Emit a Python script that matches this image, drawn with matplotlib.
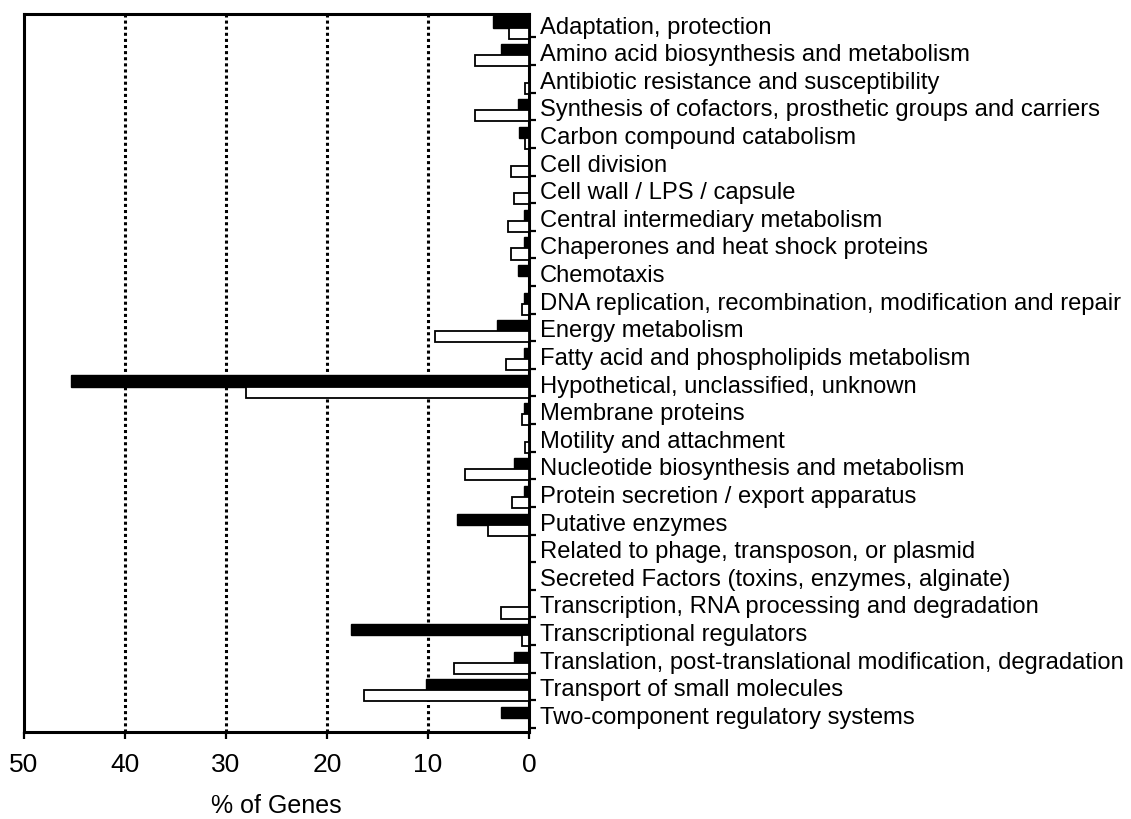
import numpy as np
import matplotlib.pyplot as plt

plt.rcParams['font.family'] = ['Liberation Sans', 'DejaVu Sans']

categories = [
    'Adaptation, protection',
    'Amino acid biosynthesis and metabolism',
    'Antibiotic resistance and susceptibility',
    'Synthesis of cofactors, prosthetic groups and carriers',
    'Carbon compound catabolism',
    'Cell division',
    'Cell wall / LPS / capsule',
    'Central intermediary metabolism',
    'Chaperones and heat shock proteins',
    'Chemotaxis',
    'DNA replication, recombination, modification and repair',
    'Energy metabolism',
    'Fatty acid and phospholipids metabolism',
    'Hypothetical, unclassified, unknown',
    'Membrane proteins',
    'Motility and attachment',
    'Nucleotide biosynthesis and metabolism',
    'Protein secretion / export apparatus',
    'Putative enzymes',
    'Related to phage, transposon, or plasmid',
    'Secreted Factors (toxins, enzymes, alginate)',
    'Transcription, RNA processing and degradation',
    'Transcriptional regulators',
    'Translation, post-translational modification, degradation',
    'Transport of small molecules',
    'Two-component regulatory systems',
]
# black bars (upper) and white bars (lower), % of genes
black_vals = [3.6, 2.8, 0.0, 1.05, 1.0, 0.0, 0.0, 0.5, 0.5, 1.05, 0.5, 3.2, 0.5,
              45.3, 0.5, 0.0, 1.45, 0.5, 7.1, 0.0, 0.0, 0.0, 17.6, 1.45, 10.2, 2.8]
white_vals = [2.0, 5.3, 0.4, 5.3, 0.4, 1.8, 1.45, 2.05, 1.8, 0.0, 0.65, 9.3, 2.3,
              28.0, 0.65, 0.4, 6.3, 1.7, 4.1, 0.0, 0.0, 2.8, 0.65, 7.4, 16.3, 0.0]
xticks = [50, 40, 30, 20, 10, 0]

fig = plt.figure(figsize=(11.31, 8.19), dpi=100)
ax = fig.add_axes([0.0212, 0.1062, 0.4465, 0.8767])

y = np.arange(len(categories))
ax.barh(y - 0.21, black_vals, height=0.4, color='black', edgecolor='black',
        linewidth=1.0, zorder=3)
ax.barh(y + 0.19, white_vals, height=0.4, color='white', edgecolor='black',
        linewidth=1.3, zorder=3)

for g in [10, 20, 30, 40]:
    ax.axvline(g, color='black', linestyle=(0, (1, 1)), linewidth=2.2, zorder=1)

ax.set_xlim(50, 0)
ax.set_ylim(len(categories) - 0.5, -0.5)

ax.yaxis.tick_right()
ax.set_yticks(y - 0.1)
ax.set_yticklabels(categories, fontsize=17.1)
ax.set_yticks(y + 0.35, minor=True)
ax.tick_params(axis='y', which='major', length=0, pad=8)
ax.tick_params(axis='y', which='minor', length=5, width=1.6, direction='out')

ax.set_xticks(xticks)
ax.set_xticklabels([str(t) for t in xticks], fontsize=19)
ax.tick_params(axis='x', length=5, width=1.6, direction='out', pad=10)

for s in ax.spines.values():
    s.set_linewidth(2.2)

ax.set_xlabel('% of Genes', fontsize=18)
ax.xaxis.set_label_coords(0.5, -0.086)

plt.savefig('out.png', dpi=100)
